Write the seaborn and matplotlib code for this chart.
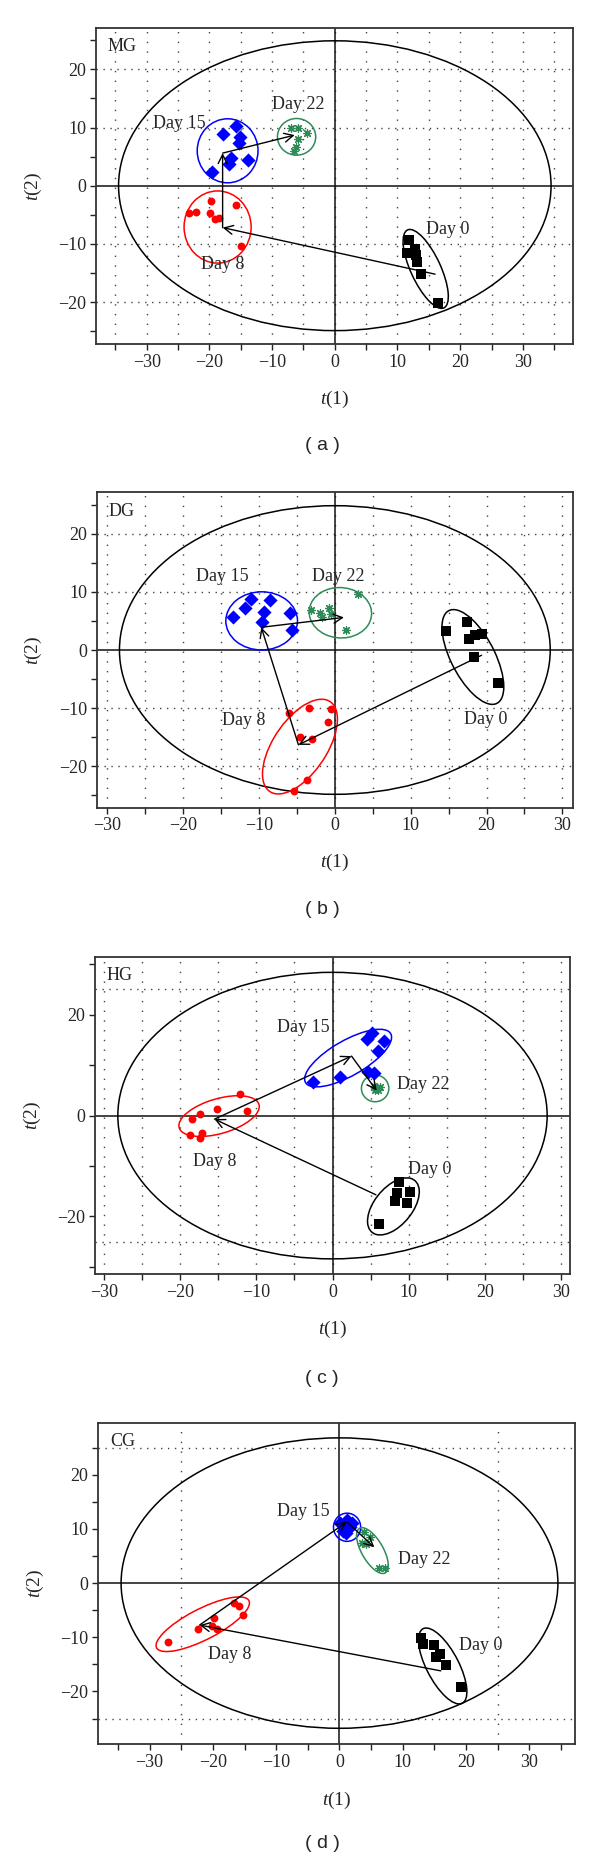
import numpy as np
import pandas as pd
import matplotlib
matplotlib.use("Agg")
import matplotlib.pyplot as plt
import seaborn as sns
from matplotlib.patches import Ellipse
from matplotlib.ticker import FixedLocator

# ---- data (score plots t(1) vs t(2)) ----
days = ["Day 0", "Day 8", "Day 15", "Day 22"]

# MG
mg_d0_x = [11.8, 11.5, 12.8, 12.9, 13.1, 13.7, 16.5]
mg_d0_y = [-9.3, -11.5, -10.9, -11.9, -13.1, -15.1, -20.2]
mg_d8_x = [-23.3, -22.2, -19.8, -19.9, -19.1, -18.4, -15.7, -14.9]
mg_d8_y = [-4.75, -4.6, -2.6, -4.75, -5.7, -5.5, -3.3, -10.3]
mg_d15_x = [-15.8, -17.9, -15.15, -15.3, -16.6, -16.85, -13.9, -19.6]
mg_d15_y = [10.25, 8.8, 8.4, 7.3, 4.7, 3.7, 4.4, 2.4]
mg_d22_x = [-7.0, -5.95, -4.5, -5.95, -6.2, -6.5]
mg_d22_y = [10.0, 10.0, 9.0, 8.1, 6.7, 6.0]
mg_centroids = [(16.0, -15.2), (-17.9, -7.2), (-17.9, 5.6), (-6.4, 8.7)]
# ellipse: centre x, centre y, axis 1, axis 2, angle
mg_ellipses = [(14.5, -14.3, 14.6, 4.8, -67), (-18.7, -7.1, 10.7, 12.4, 0),
               (-17.1, 6.0, 9.7, 11.0, 0), (-6.1, 8.4, 6.1, 6.3, 0)]
mg_t2 = (34.5, 24.9)
mg_labels = [(14.6, -7.5), (-21.3, -13.6), (-29.0, 10.7), (-10.1, 13.9)]

# DG
dg_d0_x = [14.7, 17.4, 17.7, 18.5, 19.35, 18.3, 21.5]
dg_d0_y = [3.3, 4.75, 1.9, 2.6, 2.7, -1.26, -5.6]
dg_d8_x = [-6.0, -3.4, -0.45, -0.9, -4.6, -2.95, -3.7, -5.4]
dg_d8_y = [-10.9, -9.9, -10.2, -12.3, -14.9, -15.35, -22.3, -24.2]
dg_d15_x = [-13.4, -11.9, -11.1, -8.5, -9.3, -9.6, -5.9, -5.7]
dg_d15_y = [5.7, 7.2, 8.7, 8.6, 6.5, 4.75, 6.4, 3.4]
dg_d22_x = [-3.1, -2.0, -1.75, -0.75, -0.5, 3.1, 1.45]
dg_d22_y = [6.8, 6.4, 5.7, 7.2, 6.2, 9.6, 3.4]
dg_centroids = [(19.35, -0.9), (-4.8, -16.3), (-9.7, 3.9), (1.2, 5.6)]
dg_ellipses = [(18.2, -1.2, 17.2, 6.0, -70), (-4.6, -16.6, 17.5, 7.5, 66),
               (-9.65, 5.0, 9.45, 10.0, 0), (0.73, 6.4, 8.2, 8.7, 15)]
dg_t2 = (28.4, 24.8)
dg_labels = [(17.0, -11.9), (-14.9, -12.2), (-18.3, 12.7), (-3.0, 12.7)]

# HG
hg_d0_x = [8.7, 8.5, 10.2, 8.2, 9.8, 6.1]
hg_d0_y = [-13.1, -15.4, -15.05, -17.0, -17.4, -21.5]
hg_d8_x = [-18.5, -17.4, -15.2, -12.2, -11.2, -18.7, -17.4, -17.1]
hg_d8_y = [-0.66, 0.26, 1.25, 4.2, 0.9, -3.8, -4.4, -3.5]
hg_d15_x = [-2.6, 0.96, 4.55, 5.2, 6.75, 6.0, 4.7, 5.5]
hg_d15_y = [6.6, 7.7, 15.1, 16.3, 14.8, 12.8, 8.6, 8.4]
hg_d22_x = [5.5, 5.8, 6.2, 5.6, 6.0]
hg_d22_y = [5.9, 5.3, 5.6, 5.0, 5.0]
hg_centroids = [(5.7, -15.7), (-15.5, -0.7), (2.5, 11.8), (5.8, 4.95)]
hg_ellipses = [(8.0, -18.0, 12.0, 5.5, 68), (-14.9, -0.1, 11.6, 6.5, 30),
               (2.05, 11.4, 15.0, 6.0, 45), (5.6, 5.4, 3.6, 5.3, 0)]
hg_t2 = (28.2, 28.4)
hg_labels = [(9.9, -10.6), (-18.3, -9.1), (-7.3, 17.5), (8.5, 6.2)]

# CG
cg_d0_x = [12.85, 13.2, 14.85, 15.9, 15.3, 16.8, 19.2]
cg_d0_y = [-10.2, -11.25, -11.4, -13.0, -13.7, -15.1, -19.1]
cg_d8_x = [-27.1, -22.4, -19.9, -20.2, -19.3, -16.7, -15.85, -15.3]
cg_d8_y = [-10.8, -8.5, -6.5, -7.9, -8.55, -3.75, -4.2, -5.8]
cg_d15_x = [0.1, 1.26, 1.7, 0.5, 1.05, 0.7, 1.95]
cg_d15_y = [11.1, 11.6, 10.4, 9.65, 9.2, 10.7, 11.1]
cg_d22_x = [3.8, 4.85, 3.5, 4.2, 6.2, 7.2]
cg_d22_y = [9.5, 8.5, 7.4, 7.2, 2.7, 2.7]
cg_centroids = [(16.0, -16.2), (-22.1, -7.75), (1.16, 11.3), (5.5, 6.6)]
cg_ellipses = [(16.3, -15.3, 15.1, 5.2, -66.7), (-21.6, -7.6, 17.0, 5.5, 31.7),
               (1.2, 10.3, 4.3, 5.2, 0), (5.2, 6.0, 9.2, 3.5, -65)]
cg_t2 = (34.5, 26.8)
cg_labels = [(18.9, -11.6), (-20.8, -13.1), (-9.9, 13.3), (9.2, 4.4)]

colors = ["black", "#ff0000", "#0000ff", "#2e8b57"]
markers = ["s", "o", "D", (8, 2, 0)]
sizes = [46, 32, 52, 30]

sns.set_theme(style="white")
plt.rcParams["font.family"] = ["Liberation Serif", "DejaVu Serif"]
plt.rcParams["mathtext.fontset"] = "custom"
plt.rcParams["mathtext.it"] = "Liberation Serif:italic"
plt.rcParams["mathtext.rm"] = "Liberation Serif"


def make_df(xs, ys):
    rows = []
    for day, x, y in zip(days, xs, ys):
        for a, b in zip(x, y):
            rows.append((day, a, b))
    return pd.DataFrame(rows, columns=["day", "t1", "t2"])


def draw_panel(ax, name, df, cents, ells, t2, labels, xlim, ylim,
               xticks, xlabeled, yticks, ylabeled, vgrid, hgrid):
    ax.set_xlim(*xlim)
    ax.set_ylim(*ylim)

    # dotted grid
    for v in vgrid:
        ax.axvline(v, color="#444444", lw=1.0, ls=(0, (1, 6)), zorder=1)
    for h in hgrid:
        ax.axhline(h, color="#444444", lw=1.0, ls=(0, (1, 4)), zorder=1)
    ax.axhline(0, color="#111111", lw=1.1, zorder=2)
    ax.axvline(0, color="#111111", lw=1.1, zorder=2)

    # Hotelling T2 ellipse
    ax.add_patch(Ellipse((0, 0), 2 * t2[0], 2 * t2[1], fill=False,
                         ec="black", lw=1.1, zorder=2))

    for i, day in enumerate(days):
        sub = df[df["day"] == day]
        cx, cy, w, h, ang = ells[i]
        ax.add_patch(Ellipse((cx, cy), w, h, angle=ang, fill=False,
                             ec=colors[i], lw=1.1, zorder=3))
        if i == 3:
            sns.scatterplot(data=sub, x="t1", y="t2", color=colors[i],
                            marker=markers[i], s=sizes[i], linewidth=0.9,
                            ax=ax, legend=False, zorder=4)
        else:
            sns.scatterplot(data=sub, x="t1", y="t2", color=colors[i],
                            marker=markers[i], s=sizes[i], linewidth=0,
                            edgecolor=colors[i], ax=ax, legend=False, zorder=4)
        ax.text(labels[i][0], labels[i][1], day, ha="left", va="center",
                fontsize=13, zorder=6)

    for i in range(3):
        ax.annotate("", xy=cents[i + 1], xytext=cents[i],
                    arrowprops=dict(arrowstyle="->", color="black", lw=1.0,
                                    shrinkA=0, shrinkB=0, mutation_scale=16),
                    zorder=5)

    ax.text(0.025, 0.94, name, transform=ax.transAxes, ha="left",
            va="center", fontsize=13)

    ax.xaxis.set_major_locator(FixedLocator(xlabeled))
    ax.xaxis.set_minor_locator(FixedLocator([t for t in xticks if t not in xlabeled]))
    ax.yaxis.set_major_locator(FixedLocator(ylabeled))
    ax.yaxis.set_minor_locator(FixedLocator([t for t in yticks if t not in ylabeled]))
    ax.tick_params(which="both", direction="out", length=4, width=1.0,
                   color="#222222", bottom=True, left=True)
    ax.tick_params(which="major", labelsize=13, pad=3)
    for sp in ax.spines.values():
        sp.set_color("#333333")
        sp.set_linewidth(1.3)
    ax.set_xlabel("")
    ax.set_ylabel("")
    ax.text(0.5, -0.175, r"$t$(1)", transform=ax.transAxes, ha="center",
            va="center", fontsize=14)
    ax.text(-0.132, 0.5, r"$t$(2)", transform=ax.transAxes, ha="center",
            va="center", rotation=90, fontsize=14)


fig = plt.figure(figsize=(6, 18.6), dpi=100)
W, H = 600, 1860


def rect(left, right, top, bottom):
    return [left / W, 1 - bottom / H, (right - left) / W, (bottom - top) / H]


x35 = list(range(-35, 40, 5))
x30 = list(range(-30, 35, 5))
lab30 = list(range(-30, 40, 10))
y25 = list(range(-25, 30, 5))
lab20 = list(range(-20, 30, 10))

ax_a = fig.add_axes(rect(96, 573, 28, 344))
draw_panel(ax_a, "MG", make_df([mg_d0_x, mg_d8_x, mg_d15_x, mg_d22_x],
                               [mg_d0_y, mg_d8_y, mg_d15_y, mg_d22_y]),
           mg_centroids, mg_ellipses, mg_t2, mg_labels, (-38.1, 38.0), (-27.2, 27.1),
           x35, lab30, y25, lab20, x35, [-20, -10, 10, 20])

ax_b = fig.add_axes(rect(96.7, 573, 492.3, 807.7))
draw_panel(ax_b, "DG", make_df([dg_d0_x, dg_d8_x, dg_d15_x, dg_d22_x],
                               [dg_d0_y, dg_d8_y, dg_d15_y, dg_d22_y]),
           dg_centroids, dg_ellipses, dg_t2, dg_labels, (-31.4, 31.4), (-27.1, 27.1),
           x30, lab30, y25, lab20, x30, [-20, -10, 10, 20])

ax_c = fig.add_axes(rect(95, 570, 956.7, 1274))
draw_panel(ax_c, "HG", make_df([hg_d0_x, hg_d8_x, hg_d15_x, hg_d22_x],
                               [hg_d0_y, hg_d8_y, hg_d15_y, hg_d22_y]),
           hg_centroids, hg_ellipses, hg_t2, hg_labels, (-31.2, 31.2), (-31.4, 31.5),
           x30, lab30, list(range(-30, 40, 10)), [-20, 0, 20], x30, [-25, 25])

ax_d = fig.add_axes(rect(98.3, 575, 1422.7, 1744))
draw_panel(ax_d, "CG", make_df([cg_d0_x, cg_d8_x, cg_d15_x, cg_d22_x],
                               [cg_d0_y, cg_d8_y, cg_d15_y, cg_d22_y]),
           cg_centroids, cg_ellipses, cg_t2, cg_labels, (-38.1, 37.2), (-29.7, 29.6),
           x35, lab30, y25, lab20, [-25, 25], [-25, 25])

for txt, ypix in [("( a )", 445), ("( b )", 909), ("( c )", 1378), ("( d )", 1843)]:
    fig.text(322 / W, 1 - ypix / H, txt, ha="center", va="center",
             fontsize=14, family=["Liberation Sans", "DejaVu Sans"])

fig.savefig("out.png", dpi=100)
